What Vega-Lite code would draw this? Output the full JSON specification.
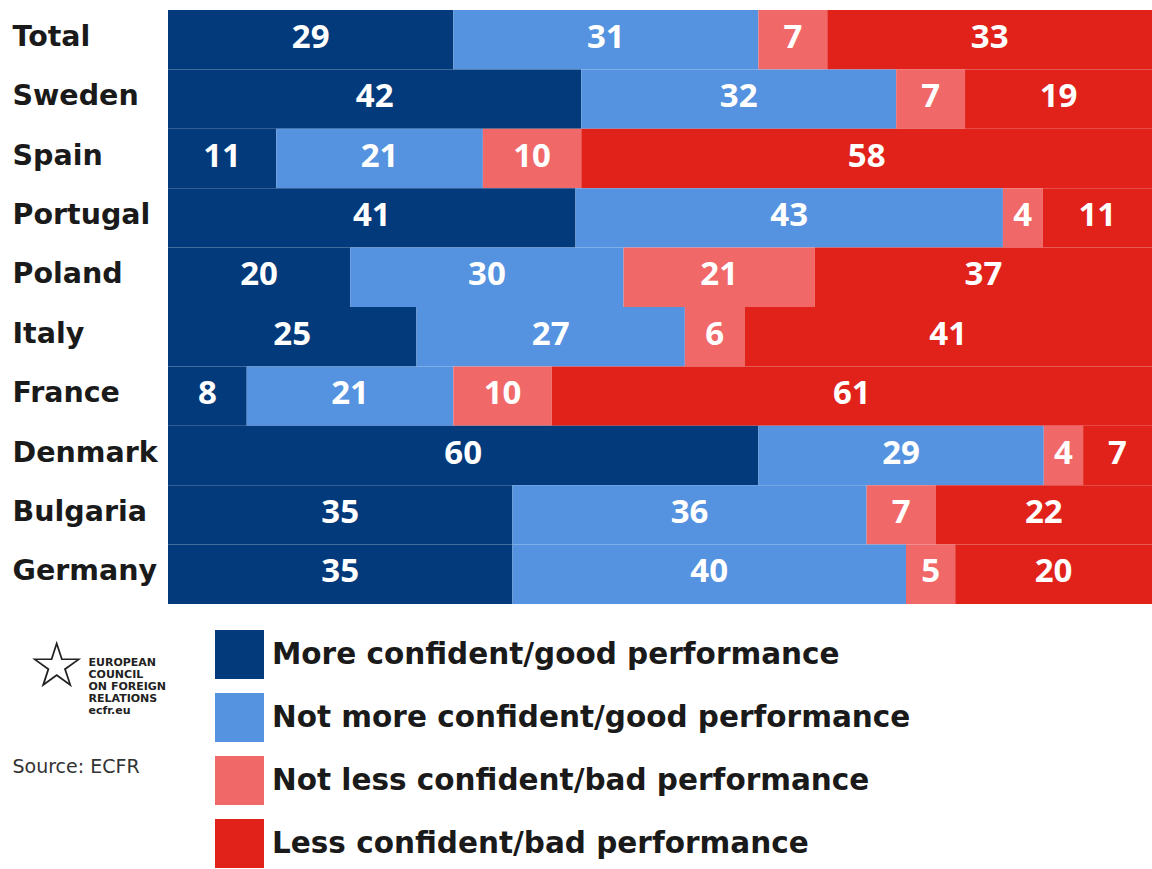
{
  "$schema": "https://vega.github.io/schema/vega-lite/v6.json",
  "width": 984,
  "height": 594,
  "autosize": "none",
  "padding": {"left": 168, "top": 10, "right": 0, "bottom": 265},
  "background": "white",
  "config": {"view": {"stroke": null}, "font": "DejaVu Sans"},
  "title": {
    "text": "☆",
    "orient": "top",
    "anchor": "start",
    "frame": "group",
    "font": "DejaVu Sans",
    "fontSize": 64,
    "fontWeight": "normal",
    "color": "#222222",
    "baseline": "middle",
    "offset": 0,
    "dx": -140,
    "dy": 722
  },
  "data": {
    "values": [
      {"country": "Total", "response": "More confident/good performance", "rank": 1, "value": 29},
      {"country": "Total", "response": "Not more confident/good performance", "rank": 2, "value": 31},
      {"country": "Total", "response": "Not less confident/bad performance", "rank": 3, "value": 7},
      {"country": "Total", "response": "Less confident/bad performance", "rank": 4, "value": 33},
      {"country": "Sweden", "response": "More confident/good performance", "rank": 1, "value": 42},
      {"country": "Sweden", "response": "Not more confident/good performance", "rank": 2, "value": 32},
      {"country": "Sweden", "response": "Not less confident/bad performance", "rank": 3, "value": 7},
      {"country": "Sweden", "response": "Less confident/bad performance", "rank": 4, "value": 19},
      {"country": "Spain", "response": "More confident/good performance", "rank": 1, "value": 11},
      {"country": "Spain", "response": "Not more confident/good performance", "rank": 2, "value": 21},
      {"country": "Spain", "response": "Not less confident/bad performance", "rank": 3, "value": 10},
      {"country": "Spain", "response": "Less confident/bad performance", "rank": 4, "value": 58},
      {"country": "Portugal", "response": "More confident/good performance", "rank": 1, "value": 41},
      {"country": "Portugal", "response": "Not more confident/good performance", "rank": 2, "value": 43},
      {"country": "Portugal", "response": "Not less confident/bad performance", "rank": 3, "value": 4},
      {"country": "Portugal", "response": "Less confident/bad performance", "rank": 4, "value": 11},
      {"country": "Poland", "response": "More confident/good performance", "rank": 1, "value": 20},
      {"country": "Poland", "response": "Not more confident/good performance", "rank": 2, "value": 30},
      {"country": "Poland", "response": "Not less confident/bad performance", "rank": 3, "value": 21},
      {"country": "Poland", "response": "Less confident/bad performance", "rank": 4, "value": 37},
      {"country": "Italy", "response": "More confident/good performance", "rank": 1, "value": 25},
      {"country": "Italy", "response": "Not more confident/good performance", "rank": 2, "value": 27},
      {"country": "Italy", "response": "Not less confident/bad performance", "rank": 3, "value": 6},
      {"country": "Italy", "response": "Less confident/bad performance", "rank": 4, "value": 41},
      {"country": "France", "response": "More confident/good performance", "rank": 1, "value": 8},
      {"country": "France", "response": "Not more confident/good performance", "rank": 2, "value": 21},
      {"country": "France", "response": "Not less confident/bad performance", "rank": 3, "value": 10},
      {"country": "France", "response": "Less confident/bad performance", "rank": 4, "value": 61},
      {"country": "Denmark", "response": "More confident/good performance", "rank": 1, "value": 60},
      {"country": "Denmark", "response": "Not more confident/good performance", "rank": 2, "value": 29},
      {"country": "Denmark", "response": "Not less confident/bad performance", "rank": 3, "value": 4},
      {"country": "Denmark", "response": "Less confident/bad performance", "rank": 4, "value": 7},
      {"country": "Bulgaria", "response": "More confident/good performance", "rank": 1, "value": 35},
      {"country": "Bulgaria", "response": "Not more confident/good performance", "rank": 2, "value": 36},
      {"country": "Bulgaria", "response": "Not less confident/bad performance", "rank": 3, "value": 7},
      {"country": "Bulgaria", "response": "Less confident/bad performance", "rank": 4, "value": 22},
      {"country": "Germany", "response": "More confident/good performance", "rank": 1, "value": 35},
      {"country": "Germany", "response": "Not more confident/good performance", "rank": 2, "value": 40},
      {"country": "Germany", "response": "Not less confident/bad performance", "rank": 3, "value": 5},
      {"country": "Germany", "response": "Less confident/bad performance", "rank": 4, "value": 20}
    ]
  },
  "transform": [
    {"stack": "value", "groupby": ["country"], "sort": [{"field": "rank", "order": "ascending"}], "offset": "normalize", "as": ["x0", "x1"]},
    {"calculate": "(datum.x0 + datum.x1) / 2", "as": "xm"}
  ],
  "encoding": {
    "y": {
      "field": "country",
      "type": "nominal",
      "sort": null,
      "scale": {"paddingInner": 0, "paddingOuter": 0},
      "axis": {
        "title": "Source: ECFR",
        "titleAngle": 0,
        "titleX": -156,
        "titleY": 747,
        "titleAlign": "left",
        "titleBaseline": "top",
        "titleFont": "DejaVu Sans",
        "titleFontSize": 19,
        "titleFontWeight": "normal",
        "titleColor": "#333333",
        "labelAlign": "left",
        "labelPadding": 156,
        "labelFont": "DejaVu Sans",
        "labelFontSize": 28.5,
        "labelFontWeight": "bold",
        "labelColor": "#1a1a1a",
        "labelLimit": 200,
        "labelOffset": -3,
        "ticks": false,
        "domain": false,
        "grid": false
      }
    }
  },
  "layer": [
    {
      "mark": {"type": "bar"},
      "encoding": {
        "x": {
          "field": "x0",
          "type": "quantitative",
          "scale": {"domain": [0, 1], "nice": false},
          "axis": {
            "title": ["EUROPEAN", "COUNCIL", "ON FOREIGN", "RELATIONS", "ecfr.eu"],
            "labels": false,
            "ticks": false,
            "domain": false,
            "grid": false,
            "titleX": -80,
            "titleY": 52,
            "titleAlign": "left",
            "titleBaseline": "top",
            "titleFont": "DejaVu Sans",
            "titleFontSize": 11,
            "titleLineHeight": 12,
            "titleFontWeight": "bold",
            "titleColor": "#222222"
          }
        },
        "x2": {"field": "x1"},
        "color": {
          "field": "response",
          "type": "nominal",
          "scale": {
            "domain": ["More confident/good performance", "Not more confident/good performance", "Not less confident/bad performance", "Less confident/bad performance"],
            "range": ["#033a7b", "#5593e0", "#f06868", "#e0221b"]
          },
          "legend": {
            "orient": "none",
            "legendX": 47,
            "legendY": 620,
            "title": null,
            "symbolType": "square",
            "symbolSize": 2400,
            "symbolStrokeWidth": 0,
            "labelFont": "DejaVu Sans",
            "labelFontSize": 29.5,
            "labelFontWeight": "bold",
            "labelColor": "#1a1a1a",
            "labelLimit": 1000,
            "labelOffset": 8,
            "rowPadding": 14,
            "padding": 0
          }
        }
      }
    },
    {
      "mark": {"type": "text", "font": "Open Sans", "fontWeight": "bold", "fontSize": 33, "color": "white", "baseline": "middle", "align": "center", "dy": -2},
      "encoding": {
        "x": {"field": "xm", "type": "quantitative"},
        "text": {"field": "value", "type": "quantitative"}
      }
    }
  ]
}
